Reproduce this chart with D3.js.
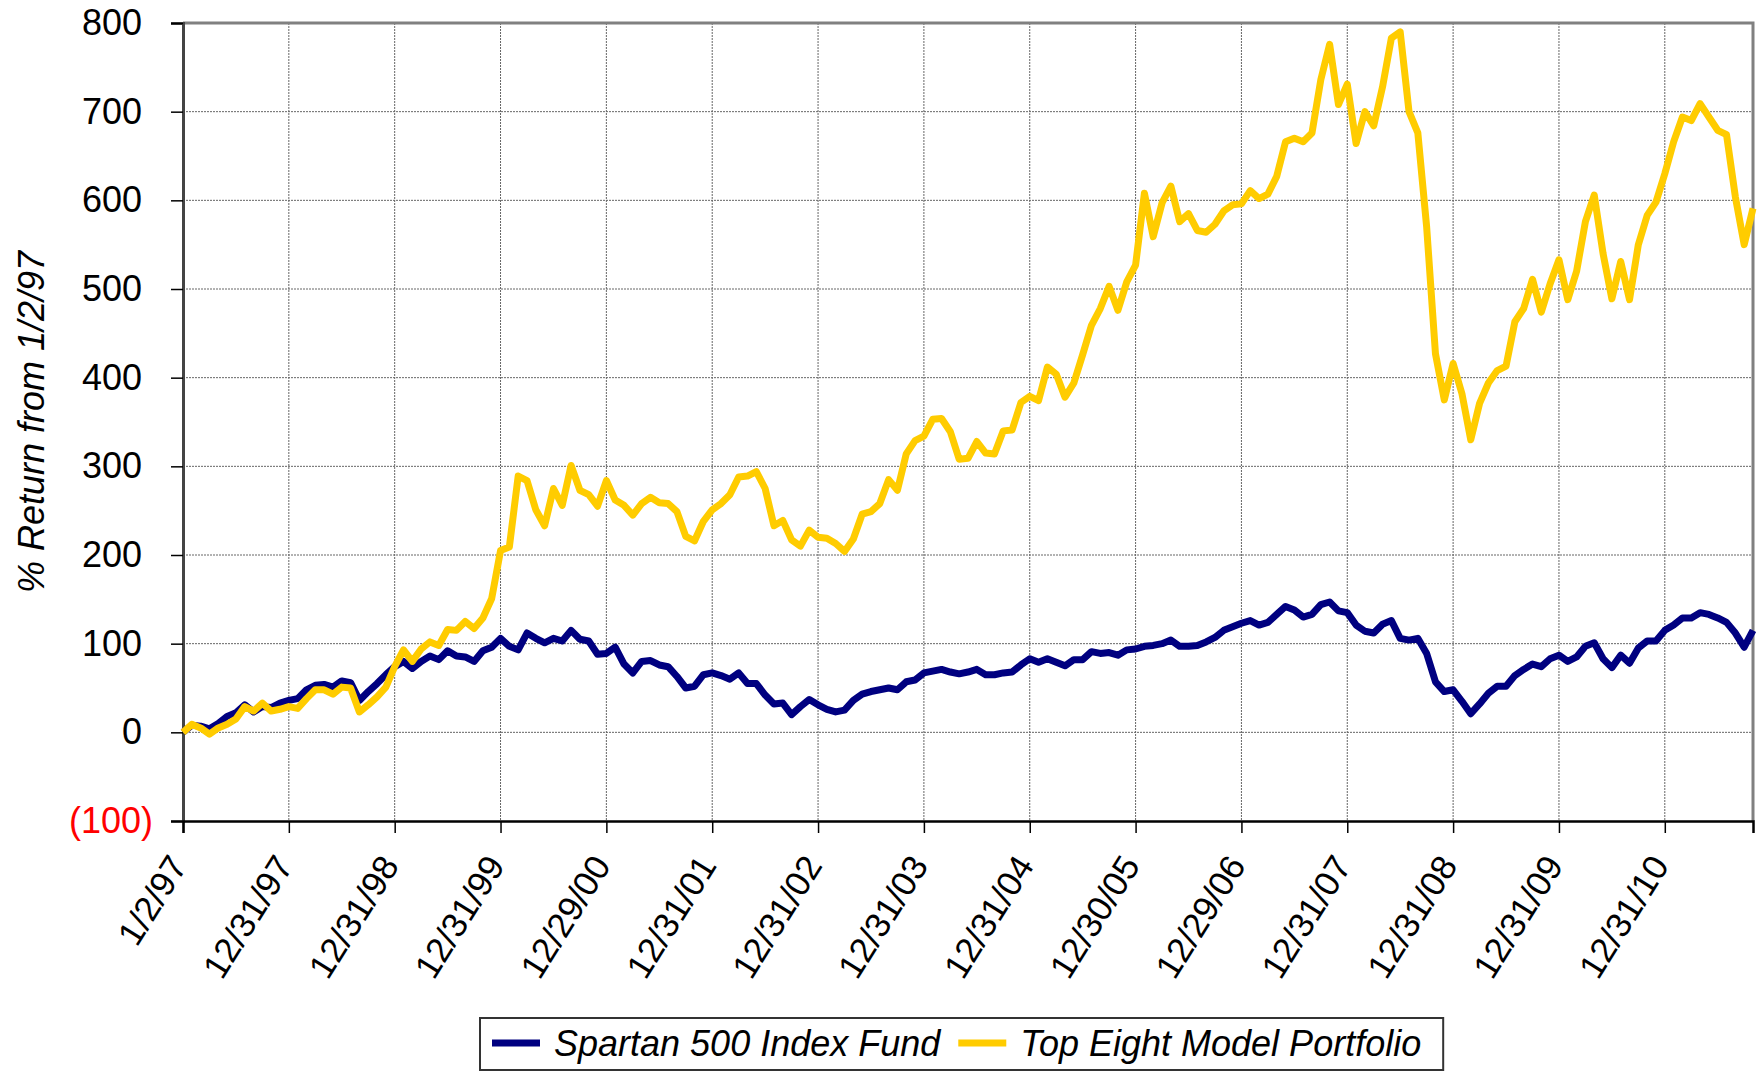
<!DOCTYPE html>
<html>
<head>
<meta charset="utf-8">
<script src="https://cdn.jsdelivr.net/npm/d3@7"></script>
<style>
  body { margin: 0; background: #fff; }
  text { font-family: "Liberation Sans", Arial, sans-serif; }
</style>
</head>
<body>
<div id="chart"></div>
<script>
// monthly % return from 1/2/97, one value per month end
const spartan = [
  0, 8, 7, 4, 10, 18, 22, 31, 23, 29, 28, 33,
  36, 38, 48, 53, 54, 51, 58, 56, 36, 46, 55, 65,
  74, 80, 72, 80, 86, 82, 92, 86, 85, 80, 92, 96,
  106, 97, 93, 112, 106, 101, 106, 103, 115, 105, 103, 88,
  89, 96, 77, 67, 80, 81, 76, 74, 63, 50, 52, 65,
  67, 64, 60, 67, 55, 55, 42, 32, 33, 20, 29, 37,
  31, 26, 23, 25, 36, 43, 46, 48, 50, 48, 57, 59,
  67, 69, 71, 68, 66, 68, 71, 65, 65, 67, 68, 76,
  83, 79, 83, 79, 75, 82, 82, 91, 89, 90, 87, 93,
  94, 97, 98, 100, 104, 97, 97, 98, 102, 107, 115, 119,
  123, 126, 121, 124, 133, 142, 138, 130, 133, 144, 147, 137,
  135, 121, 114, 112, 122, 126, 106, 104, 106, 89, 57, 46,
  48, 35, 21, 32, 44, 52, 52, 64, 71, 77, 74, 83,
  87, 80, 85, 97, 101, 83, 73, 87, 78, 95, 103, 103,
  115, 121, 129, 129, 135, 133, 129, 124, 112, 96, 115
];

const topEight = [
  0, 9, 5, -2, 5, 9, 15, 29, 24, 33, 24, 26,
  29, 27, 38, 48, 48, 43, 51, 50, 23, 31, 40, 51,
  74, 93, 80, 94, 102, 98, 116, 115, 125, 117, 129, 151,
  205, 209, 289, 284, 251, 233, 275, 256, 301, 273, 268, 255,
  284, 262, 256, 245, 258, 265, 259, 258, 249, 221, 216, 238,
  251, 258, 268, 288, 289, 294, 275, 233, 239, 217, 210, 228,
  220, 219, 213, 204, 218, 246, 249, 258, 285, 273, 314, 329,
  334, 353, 354, 339, 308, 309, 328, 315, 314, 340, 341, 372,
  379, 374, 412, 404, 378, 394, 426, 459, 478, 503, 476, 508,
  527, 608, 559, 597, 616, 576, 585, 566, 564, 573, 588, 595,
  596, 611, 602, 607, 627, 666, 670, 666, 676, 736, 776, 708,
  731, 664, 700, 684, 728, 783, 790, 700, 676, 570, 427, 375,
  416, 382, 330, 371, 394, 408, 413, 463, 478, 511, 474, 506,
  533, 488, 520, 576, 606, 540, 489, 531, 488, 550, 583, 598,
  630, 666, 694, 690, 709, 694, 679, 674, 604, 550, 591
];

// labels on every 12th month
const tickLabels = ["1/2/97", "12/31/97", "12/31/98", "12/31/99", "12/29/00",
  "12/31/01", "12/31/02", "12/31/03", "12/31/04", "12/30/05", "12/29/06",
  "12/31/07", "12/31/08", "12/31/09", "12/31/10"];

const yTicks = [-100, 0, 100, 200, 300, 400, 500, 600, 700, 800];

const seriesNames = ["Spartan 500 Index Fund", "Top Eight Model Portfolio"];
const seriesColors = ["#000080", "#ffcc00"];

var margin = { top: 23, right: 7, bottom: 251, left: 183 },
  width = 1760 - margin.left - margin.right,
  height = 1072 - margin.top - margin.bottom;

const svg = d3.select("#chart")
  .append("svg")
  .attr("width", 1760)
  .attr("height", 1072);

const g = svg.append("g")
  .attr("transform", "translate(" + margin.left + "," + margin.top + ")");

const x = d3.scaleLinear()
  .domain([0, spartan.length - 1])
  .range([0, width]);

const y = d3.scaleLinear()
  .domain([-100, 800])
  .range([height, 0]);

const tickIdx = tickLabels.map((d, i) => i * 12);

// grid
g.append("g").selectAll("line")
  .data(yTicks.filter(d => d > -100 && d < 800))
  .join("line")
  .attr("x1", 0).attr("x2", width)
  .attr("y1", d => y(d)).attr("y2", d => y(d))
  .attr("stroke", "#666")
  .attr("stroke-width", 1)
  .attr("stroke-dasharray", "2,1");

g.append("g").selectAll("line")
  .data(tickIdx.slice(1))
  .join("line")
  .attr("x1", d => x(d)).attr("x2", d => x(d))
  .attr("y1", 0).attr("y2", height)
  .attr("stroke", "#666")
  .attr("stroke-width", 1)
  .attr("stroke-dasharray", "2,1");

// frame top / right
g.append("path")
  .attr("d", "M0,0H" + width + "V" + height)
  .attr("fill", "none")
  .attr("stroke", "#808080")
  .attr("stroke-width", 3);

// y axis - positives leave room for ")" like the accounting format
const yAxis = d3.axisLeft(y)
  .tickValues(yTicks)
  .tickSize(12)
  .tickPadding(18)
  .tickFormat(d => d < 0 ? "(" + (-d) + ")" : d);

const ya = g.append("g").call(yAxis);
ya.select(".domain").attr("stroke", "#444").attr("stroke-width", 3);
ya.selectAll(".tick line").attr("stroke", "#000").attr("stroke-width", 1.5);
ya.selectAll(".tick text")
  .attr("font-size", 36)
  .attr("font-family", "Liberation Sans, Arial, sans-serif")
  .attr("dx", d => d < 0 ? 0 : -11)
  .attr("fill", d => d < 0 ? "#ff0000" : "#000");

// x axis
const xAxis = d3.axisBottom(x)
  .tickValues(tickIdx)
  .tickSize(12)
  .tickFormat("");

const xa = g.append("g")
  .attr("transform", "translate(0," + height + ")")
  .call(xAxis);
xa.select(".domain").attr("stroke", "#000").attr("stroke-width", 2.5);
xa.selectAll(".tick line").attr("stroke", "#000").attr("stroke-width", 1.5);

g.append("g").selectAll("text")
  .data(tickLabels)
  .join("text")
  .attr("transform", (d, i) => "translate(" + (x(tickIdx[i]) - 5) + "," + (height + 38) + ") rotate(-58)")
  .attr("text-anchor", "end")
  .attr("dy", "0.35em")
  .attr("font-size", 35)
  .text(d => d);

// y title
svg.append("text")
  .attr("transform", "translate(44," + (margin.top + height / 2) + ") rotate(-90)")
  .attr("text-anchor", "middle")
  .attr("font-size", 36)
  .attr("font-style", "italic")
  .text("% Return from 1/2/97");

// lines
const line = d3.line()
  .x((d, i) => x(i))
  .y(d => y(d));

[spartan, topEight].forEach((s, k) => {
  g.append("path")
    .datum(s)
    .attr("fill", "none")
    .attr("stroke", seriesColors[k])
    .attr("stroke-width", 7)
    .attr("stroke-linejoin", "round")
    .attr("d", line);
});

// legend
const leg = svg.append("g");
const legBox = leg.append("rect")
  .attr("x", 480).attr("y", 1018)
  .attr("width", 975).attr("height", 52)
  .attr("fill", "#fff")
  .attr("stroke", "#333")
  .attr("stroke-width", 2);

let lx = 492;
seriesNames.forEach((name, k) => {
  leg.append("line")
    .attr("x1", lx).attr("x2", lx + 48)
    .attr("y1", 1043).attr("y2", 1043)
    .attr("stroke", seriesColors[k])
    .attr("stroke-width", 7);
  const t = leg.append("text")
    .attr("x", lx + 62)
    .attr("y", 1043)
    .attr("dy", "0.35em")
    .attr("font-size", 36)
    .attr("font-style", "italic")
    .text(name);
  lx = lx + 62 + t.node().getComputedTextLength() + 18;
});
legBox.attr("width", lx - 480 + 4);
</script>
</body>
</html>
